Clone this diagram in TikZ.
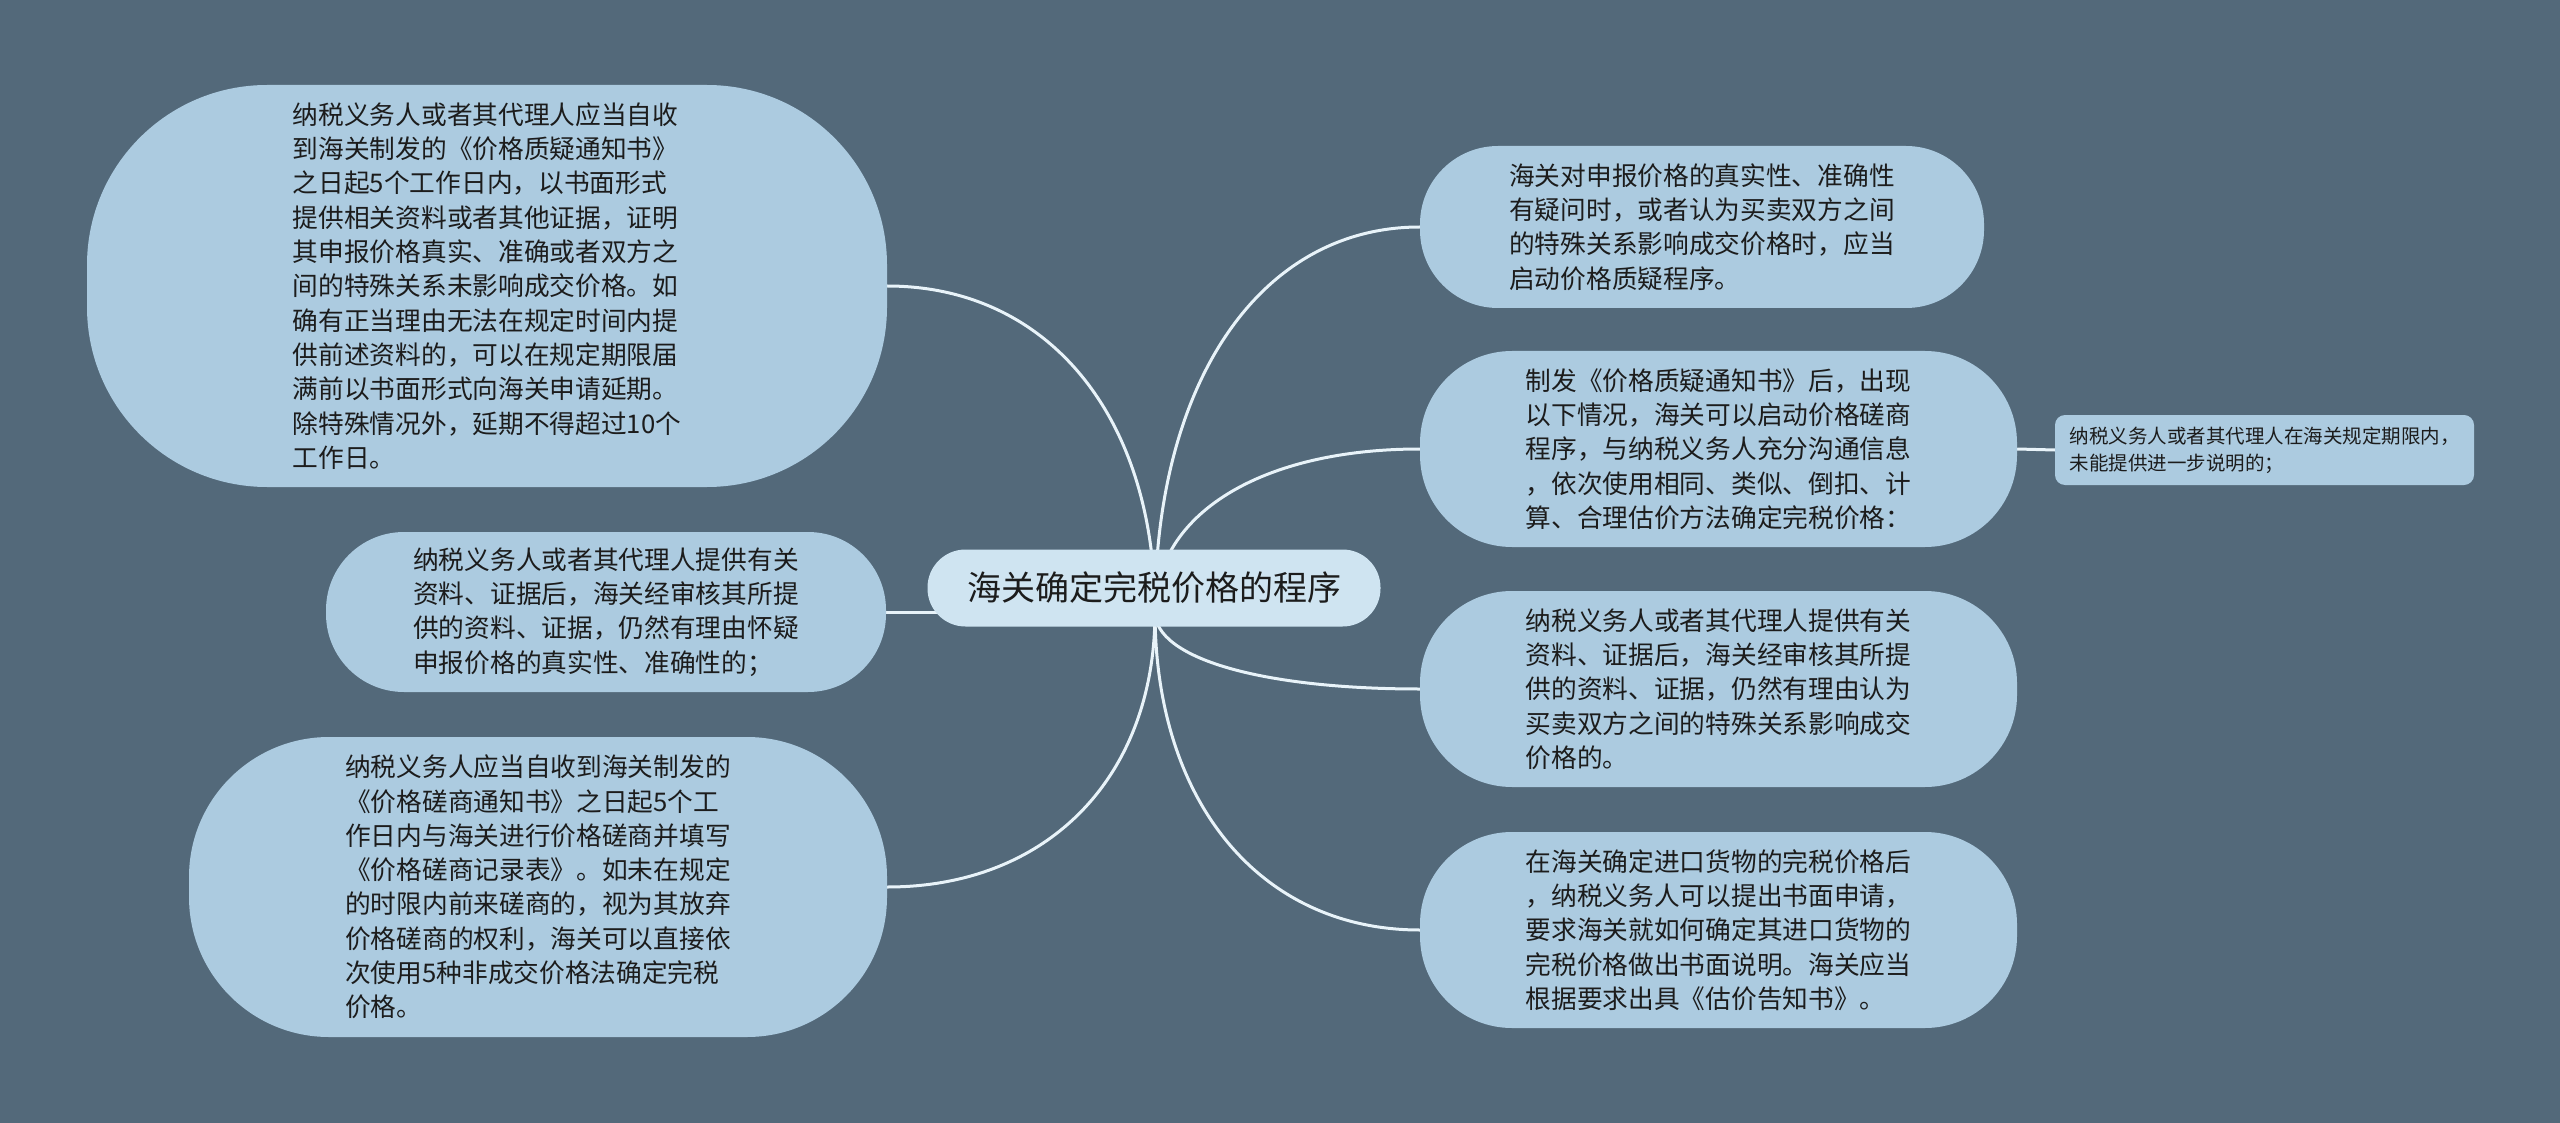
\documentclass[tikz,border=0pt]{standalone}
\usepackage{fontspec}
\setmainfont{Noto Sans CJK SC}
\usetikzlibrary{backgrounds,calc}

\definecolor{bgblue}{HTML}{53697A}
\definecolor{leafblue}{HTML}{ACCBE0}
\definecolor{topicblue}{HTML}{CFE4F1}
\definecolor{linkwhite}{HTML}{E8F3F9}
\definecolor{inkgray}{HTML}{1C1C1C}

\tikzset{
  topic/.style={fill=topicblue, text=inkgray, inner sep=0pt, minimum width=453pt,
    minimum height=77pt, rounded corners=38pt, font=\fontsize{34pt}{40pt}\selectfont},
  leaf/.style={fill=leafblue, text=inkgray, inner sep=0pt, align=left,
    font=\fontsize{25.7pt}{34.3pt}\selectfont},
  subleaf/.style={fill=leafblue, text=inkgray, inner sep=0pt, align=left,
    rounded corners=10pt, font=\fontsize{19.5pt}{27pt}\selectfont},
  link/.style={draw=linkwhite, line width=3pt},
}

%% smooth branch from the hub to an anchor
\newcommand{\branchto}[1]{%
  \draw[link] (hub) .. controls ($(hub)!0.6!(hub |- #1)$) and ($(#1)!0.6!(hub |- #1)$) .. (#1);}

\begin{document}
\begin{tikzpicture}[x=1pt, y=-1pt]
\useasboundingbox (0,0) rectangle (2560,1123);

%% center topic
\node[topic] (topic) at (1154,588) {海关确定完税价格的程序};

%% left leaves
\node[leaf, minimum width=800pt, minimum height=402pt, rounded corners=180pt] (l1) at (487,286)
  {纳税义务人或者其代理人应当自收\\到海关制发的《价格质疑通知书》\\之日起5个工作日内，以书面形式\\提供相关资料或者其他证据，证明\\其申报价格真实、准确或者双方之\\间的特殊关系未影响成交价格。如\\确有正当理由无法在规定时间内提\\供前述资料的，可以在规定期限届\\满前以书面形式向海关申请延期。\\除特殊情况外，延期不得超过10个\\工作日。};
\node[leaf, minimum width=560pt, minimum height=160pt, rounded corners=78pt] (l2) at (606,612)
  {纳税义务人或者其代理人提供有关\\资料、证据后，海关经审核其所提\\供的资料、证据，仍然有理由怀疑\\申报价格的真实性、准确性的；};
\node[leaf, minimum width=698pt, minimum height=300pt, rounded corners=140pt] (l3) at (538,887)
  {纳税义务人应当自收到海关制发的\\《价格磋商通知书》之日起5个工\\作日内与海关进行价格磋商并填写\\《价格磋商记录表》。如未在规定\\的时限内前来磋商的，视为其放弃\\价格磋商的权利，海关可以直接依\\次使用5种非成交价格法确定完税\\价格。};

%% right leaves
\node[leaf, minimum width=564pt, minimum height=162pt, rounded corners=78pt] (r1) at (1702,227)
  {海关对申报价格的真实性、准确性\\有疑问时，或者认为买卖双方之间\\的特殊关系影响成交价格时，应当\\启动价格质疑程序。};
\node[leaf, minimum width=597pt, minimum height=196pt, rounded corners=92pt] (r2) at (1718.5,449)
  {制发《价格质疑通知书》后，出现\\以下情况，海关可以启动价格磋商\\程序，与纳税义务人充分沟通信息\\，依次使用相同、类似、倒扣、计\\算、合理估价方法确定完税价格：};
\node[leaf, minimum width=597pt, minimum height=196pt, rounded corners=92pt] (r3) at (1718.5,689)
  {纳税义务人或者其代理人提供有关\\资料、证据后，海关经审核其所提\\供的资料、证据，仍然有理由认为\\买卖双方之间的特殊关系影响成交\\价格的。};
\node[leaf, minimum width=597pt, minimum height=196pt, rounded corners=92pt] (r4) at (1718.5,930)
  {在海关确定进口货物的完税价格后\\，纳税义务人可以提出书面申请，\\要求海关就如何确定其进口货物的\\完税价格做出书面说明。海关应当\\根据要求出具《估价告知书》。};
\node[subleaf, minimum width=419pt, minimum height=70pt] (r2c) at (2264.5,450)
  {纳税义务人或者其代理人在海关规定期限内，\\未能提供进一步说明的；};

%% branch point behind the topic
\coordinate (hub) at (1155,612);

\begin{pgfonlayer}{background}
\fill[bgblue] (0,0) rectangle (2560,1123);

%% branches
\branchto{l1.east}
\draw[link] (hub) -- (l2.east);
\branchto{l3.east}
\branchto{r1.west}
\branchto{r2.west}
\branchto{r3.west}
\branchto{r4.west}
\draw[link] (r2.east) -- (r2c.west); %% r2 -> r2c
\end{pgfonlayer}
\end{tikzpicture}
\end{document}
